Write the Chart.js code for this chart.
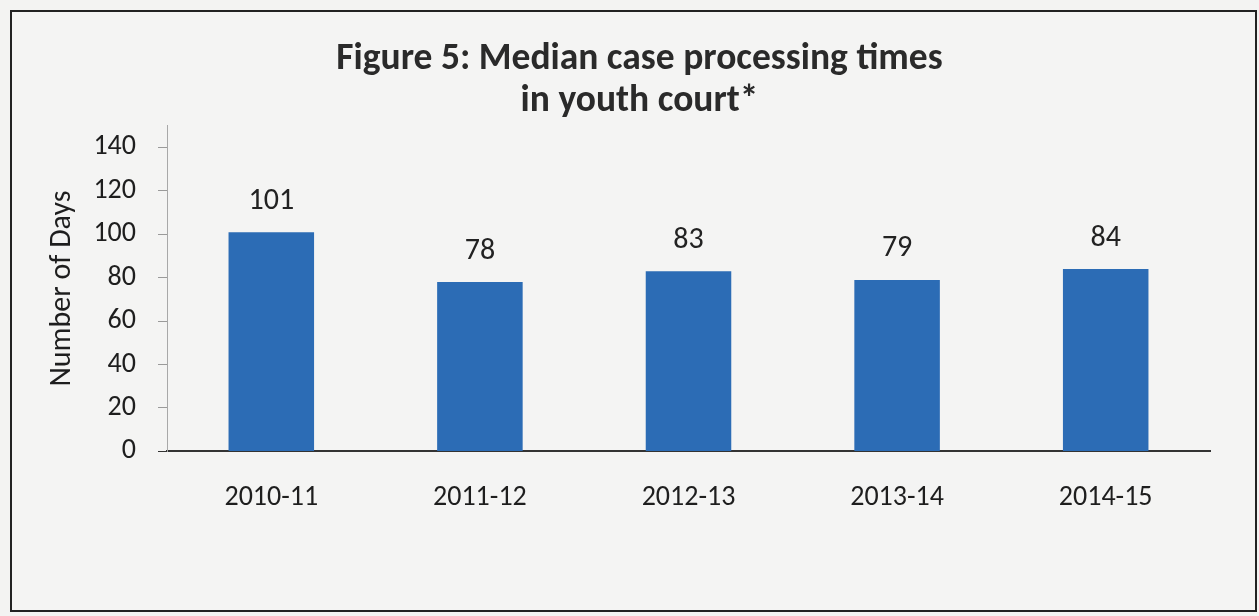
<!DOCTYPE html>
<html>
<head>
    <title>Median case processing times</title>
    <script src="https://cdn.jsdelivr.net/npm/chart.js"></script>
    <style>
        body {
            margin: 0;
            background-color: #f3f3f2;
        }

        .chart-box {
            position: absolute;
            left: 10px;
            top: 10px;
            width: 1247px;
            height: 602px;
            box-sizing: border-box;
            border: 2px solid #222222;
            background-color: #f4f4f3;
        }
    </style>
</head>
<body>
    <div class="chart-box">
        <canvas id="timesChart"></canvas>
    </div>

    <script>
        var years = ["2010-11", "2011-12", "2012-13", "2013-14", "2014-15"];
        var medianDays = [101, 78, 83, 79, 84];
        var dayTicks = [0, 20, 40, 60, 80, 100, 120, 140];

        var fontFamily = "Carlito, Calibri, Lato, sans-serif";

        // writes each bar's value above it
        var barValues = {
            id: 'barValues',
            afterDatasetsDraw: function (chart) {
                var ctx = chart.ctx;
                var meta = chart.getDatasetMeta(0);
                ctx.save();
                ctx.font = '30px ' + fontFamily;
                ctx.fillStyle = '#222222';
                ctx.textAlign = 'center';
                ctx.textBaseline = 'bottom';
                meta.data.forEach(function (bar, i) {
                    ctx.fillText(chart.data.datasets[0].data[i], bar.x, bar.y - 16);
                });
                ctx.restore();
            }
        };

        var timesChart = new Chart(document.getElementById('timesChart').getContext('2d'), {
            type: 'bar',
            data: {
                labels: years,
                datasets: [{
                    data: medianDays,
                    backgroundColor: '#2c6cb5',
                    borderWidth: 0,
                    categoryPercentage: 1,
                    barPercentage: 0.41
                }]
            },
            plugins: [barValues],
            options: {
                responsive: true,
                maintainAspectRatio: false,
                animation: false,
                layout: {
                    padding: { left: 57, right: 45, top: 0, bottom: 65 }
                },
                plugins: {
                    legend: { display: false },
                    tooltip: { enabled: false },
                    title: {
                        display: true,
                        text: ['Figure 5: Median case processing times', 'in youth court*'],
                        color: '#2a2a2a',
                        font: { family: fontFamily, size: 37.5, weight: 'bold', lineHeight: 1.13 },
                        padding: { top: 26, bottom: 3 }
                    }
                },
                scales: {
                    x: {
                        grid: { display: false, drawTicks: false },
                        border: { display: true, color: '#333333', width: 2 },
                        ticks: {
                            color: '#1e1e1e',
                            padding: 30,
                            font: { family: fontFamily, size: 28 }
                        }
                    },
                    y: {
                        min: 0,
                        max: 150,
                        // axis line runs a little past the last labelled tick
                        afterBuildTicks: function (scale) {
                            scale.ticks = dayTicks.map(function (v) { return { value: v }; });
                        },
                        afterFit: function (scale) { scale.width = 98; },
                        grid: {
                            drawOnChartArea: false,
                            drawTicks: true,
                            tickLength: 9,
                            color: function (context) {
                                return context.tick && context.tick.value === 0 ? '#333333' : '#9a9a9a';
                            }
                        },
                        border: { display: true, color: '#a8a8a8', width: 1 },
                        ticks: {
                            color: '#1e1e1e',
                            padding: 22,
                            font: { family: fontFamily, size: 28 }
                        },
                        title: {
                            display: true,
                            text: 'Number of Days',
                            color: '#1e1e1e',
                            padding: { top: -25, bottom: 0 },
                            font: { family: fontFamily, size: 30 }
                        }
                    }
                }
            }
        });
    </script>
</body>
</html>
